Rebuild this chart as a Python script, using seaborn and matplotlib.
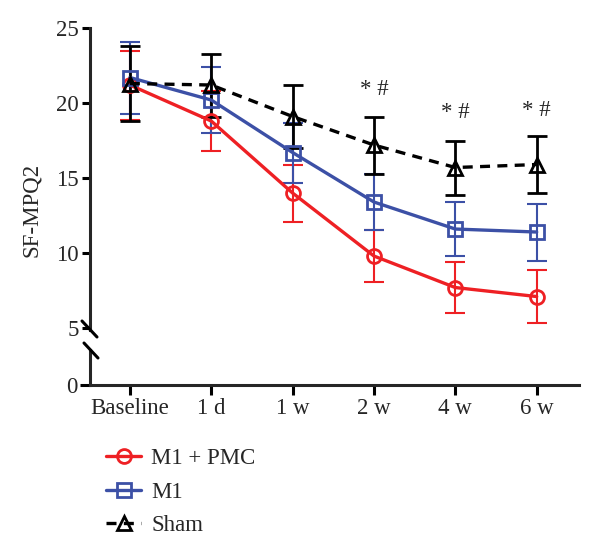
import numpy as np
import pandas as pd
import seaborn as sns
import matplotlib.pyplot as plt
from matplotlib.lines import Line2D

timepoints = ["Baseline", "1 d", "1 w", "2 w", "4 w", "6 w"]
groups = ["M1 + PMC", "M1", "Sham"]

m1_pmc_mean = [21.2, 18.8, 14.0, 9.8, 7.7, 7.1]
m1_pmc_sd = [2.3, 2.0, 1.9, 1.75, 1.7, 1.75]
m1_mean = [21.7, 20.2, 16.7, 13.4, 11.6, 11.4]
m1_sd = [2.4, 2.2, 2.0, 1.85, 1.8, 1.9]
sham_mean = [21.3, 21.2, 19.1, 17.2, 15.7, 15.9]
sham_sd = [2.5, 2.1, 2.1, 1.9, 1.8, 1.9]

sig_points = ["2 w", "4 w", "6 w"]
sig_y = [20.9, 19.4, 19.5]
sig_text = "* #"

colors = {"M1 + PMC": "#ee2024", "M1": "#3c50a6", "Sham": "#000000"}
markers = {"M1 + PMC": "o", "M1": "s", "Sham": "^"}

FS = 16.5
sns.set_style("ticks")
plt.rcParams["font.family"] = ["Liberation Serif", "DejaVu Serif"]
plt.rcParams["font.size"] = FS

means = {"M1 + PMC": m1_pmc_mean, "M1": m1_mean, "Sham": sham_mean}
sds = {"M1 + PMC": m1_pmc_sd, "M1": m1_sd, "Sham": sham_sd}

fig = plt.figure(figsize=(6, 5.52), dpi=100)
W, H = 600.0, 552.0
ax = fig.add_axes([90 / W, 1 - 330 / H, 489 / W, 302 / H])
ax0 = fig.add_axes([90 / W, 1 - 385 / H, 489 / W, 35 / H])

x = np.arange(len(timepoints))
for g in groups:
    df = pd.DataFrame({"x": x, "y": means[g]})
    c = colors[g]
    ew = 2.0 if g == "Sham" else 1.5
    ax.errorbar(x, means[g], yerr=sds[g], fmt="none", ecolor=c,
                elinewidth=ew, capsize=7, capthick=ew, zorder=2)
    sns.lineplot(data=df, x="x", y="y", ax=ax, color=c, marker=markers[g],
                 markersize=10, markeredgewidth=2.0, fillstyle="none",
                 markeredgecolor=c, linewidth=2.4, label=g, zorder=3)
line_sham = ax.get_lines()[-1]
line_sham.set_dashes((3, 2.2))

h, l = ax.get_legend_handles_labels()
ax.get_legend().remove()
for hh in h:
    if hh.get_label() == "Sham":
        hh.set_dashes((3, 2.2))

for tp, yv in zip(sig_points, sig_y):
    ax.text(timepoints.index(tp), yv, sig_text, ha="center", va="center",
            fontsize=FS)

ax.set_xlim(-0.49, 5.52)
ax.set_ylim(4.87, 25)
ax.set_yticks([5, 10, 15, 20, 25])
ax.set_xticks([])
ax.set_xlabel("")
ax.set_ylabel("")
for s in ["top", "right", "bottom"]:
    ax.spines[s].set_visible(False)
ax.spines["left"].set_linewidth(2.2)
ax.spines["left"].set_bounds(4.87, 25)
ax.tick_params(axis="y", width=2.2, length=6, labelsize=FS, color="black",
               pad=2)

ax0.set_xlim(-0.49, 5.52)
ax0.set_ylim(0, 35 / 15)
ax0.set_yticks([0])
ax0.set_xticks(x)
ax0.set_xticklabels(timepoints)
for s in ["top", "right"]:
    ax0.spines[s].set_visible(False)
ax0.spines["left"].set_linewidth(2.2)
ax0.spines["bottom"].set_linewidth(2.2)
ax0.tick_params(axis="both", width=2.2, length=7, labelsize=FS, color="black",
                pad=2)
ax0.patch.set_alpha(0)
ax.patch.set_alpha(0)

# axis break marks
for (x1, y1, x2, y2) in [(82, 321, 97, 337), (84, 343, 98, 358)]:
    fig.add_artist(Line2D([x1 / W, x2 / W], [1 - y1 / H, 1 - y2 / H],
                          color="black", linewidth=2.2,
                          transform=fig.transFigure))

fig.text(31 / W, 1 - 210 / H, "SF-MPQ2", rotation=90, ha="center",
         va="center", fontsize=FS)

fig.legend(h, l, loc="upper left", bbox_to_anchor=(106 / W, 1 - 448 / H),
           frameon=False, handlelength=1.53, handletextpad=0.45,
           labelspacing=0.55, borderpad=0, borderaxespad=0, fontsize=FS)

fig.savefig("out.png", dpi=100)
